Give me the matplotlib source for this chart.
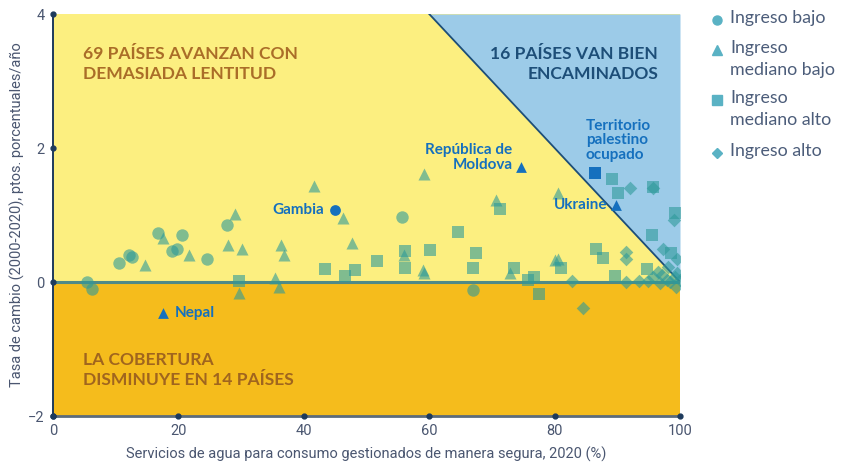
import numpy as np
import matplotlib
matplotlib.use("Agg")
import matplotlib.pyplot as plt
from matplotlib.lines import Line2D

# --- data (x = % safely managed 2020, y = pp/year 2000-2020) ---
low_x = [5.5, 6.2, 10.6, 12.2, 12.6, 16.7, 19.0, 19.7, 20.6, 24.5, 27.8, 55.7, 67.0]
low_y = [0.0, -0.11, 0.29, 0.41, 0.38, 0.73, 0.47, 0.49, 0.70, 0.35, 0.85, 0.97, -0.12]

lmid_x = [14.7, 17.6, 21.7, 27.9, 29.1, 30.2, 29.6, 35.4, 36.1, 36.4, 36.8, 41.7,
          46.2, 47.7, 56.0, 59.0, 59.2, 59.2, 70.7, 72.9, 80.1, 80.6, 80.6]
lmid_y = [0.25, 0.65, 0.41, 0.55, 1.02, 0.49, -0.16, 0.06, -0.07, 0.55, 0.41, 1.44,
          0.95, 0.58, 0.40, 0.18, 0.14, 1.61, 1.22, 0.13, 0.33, 0.35, 1.33]

umid_x = [29.6, 43.4, 46.5, 48.2, 51.7, 56.2, 56.2, 60.1, 64.6, 67.4, 67.0, 71.3,
          73.6, 75.8, 76.7, 77.5, 81.1, 86.6, 87.7, 89.6, 89.1, 90.1, 95.7, 95.6,
          94.8, 98.5, 99.2]
umid_y = [0.01, 0.20, 0.09, 0.18, 0.32, 0.47, 0.21, 0.48, 0.74, 0.44, 0.21, 1.09,
          0.21, 0.03, 0.08, -0.18, 0.21, 0.50, 0.36, 0.09, 1.54, 1.33, 1.42, 0.70,
          0.20, 0.43, 1.03]

high_x = [82.7, 84.6, 91.4, 91.4, 91.4, 92.1, 93.4, 94.9, 95.7, 97.3, 99.1, 99.6,
          98.1, 96.5, 97.1, 95.7, 97.9, 99.2, 100.0, 99.4, 98.4, 96.8, 99.6]
high_y = [0.02, -0.39, 0.45, 0.35, 0.0, 1.40, 0.02, 0.02, 1.41, 0.50, 0.93, 0.35,
          0.23, 0.15, 0.10, 0.08, 0.03, 0.08, 0.03, -0.07, 0.0, -0.02, 0.13]

# highlighted countries
hl_names = ["Gambia", "República de\nMoldova", "Nepal", "Ukraine",
            "Territorio\npalestino\nocupado"]
hl_x = [45.0, 74.6, 17.6, 89.8, 86.4]
hl_y = [1.07, 1.72, -0.46, 1.15, 1.62]
hl_marker = ["o", "^", "^", "^", "s"]

target_years = 10  # rate needed to reach 100% by 2030

# --- styles ---
YELLOW = "#FCEF80"
ORANGE = "#F5BC1C"
BLUE_BG = "#9CCBE8"
PT = "#2E9A9A"
HL = "#1570BE"
TXT = "#4A5670"

plt.rcParams["font.family"] = ["Lato", "DejaVu Sans"]

fig = plt.figure(figsize=(8.49, 4.63), dpi=100)
ax = fig.add_axes([53 / 849, 1 - 416 / 463, 627 / 849, 402 / 463])
ax.set_xlim(0, 100)
ax.set_ylim(-2, 4)

# background zones
xs = np.linspace(0, 100, 201)
line_y = (100 - xs) / target_years
ax.fill_between(xs, 0, 4, color=YELLOW, zorder=0, lw=0)
ax.fill_between(xs, -2, 0, color=ORANGE, zorder=0, lw=0)
ax.fill_between(xs, np.clip(line_y, 0, 4), 4, where=line_y <= 4.001,
                color=BLUE_BG, zorder=0.5, lw=0)
ax.plot(xs[line_y <= 4], line_y[line_y <= 4], color="#1D4E78", lw=1.3, zorder=2)
ax.axhline(0, color="#4F8A87", lw=2.2, zorder=2)

# scatter groups
kw = dict(color=PT, alpha=0.6, lw=0, zorder=3)
ax.scatter(low_x, low_y, marker="o", s=80, **kw)
ax.scatter(lmid_x, lmid_y, marker="^", s=75, **kw)
ax.scatter(umid_x, umid_y, marker="s", s=75, **kw)
ax.scatter(high_x, high_y, marker="D", s=48, **kw)

# highlighted countries
offsets = [(-8, 0), (-6, 6.5), (8, 0), (-6.5, 0), (-6.5, 24)]
aligns = ["right", "right", "left", "right", "left"]
for name, x, y, m, off, ha in zip(hl_names, hl_x, hl_y, hl_marker, offsets, aligns):
    ax.scatter([x], [y], marker=m, s=60 if m != "s" else 70, color=HL, lw=0, zorder=5)
    ax.annotate(name, (x, y), xytext=off, textcoords="offset points",
                ha=ha, va="center", multialignment=ha, color=HL,
                fontsize=11, fontweight="bold", linespacing=1.05, zorder=6)

# zone labels
ax.text(4.8, 3.25, "69 PAÍSES AVANZAN CON\nDEMASIADA LENTITUD", ha="left", va="center",
        color="#AA6D28", fontsize=12.6, fontweight="bold", linespacing=1.3)
ax.text(96.5, 3.25, "16 PAÍSES VAN BIEN\nENCAMINADOS", ha="right", va="center",
        multialignment="right", color="#1D4E78", fontsize=12.6, fontweight="bold",
        linespacing=1.3)
ax.text(4.8, -1.31, "LA COBERTURA\nDISMINUYE EN 14 PAÍSES", ha="left", va="center",
        color="#A0651E", fontsize=12.6, fontweight="bold", linespacing=1.3)

# axes styling
for s in ["top", "right"]:
    ax.spines[s].set_visible(False)
ax.spines["left"].set_color("#1D3A5C")
ax.spines["left"].set_linewidth(1.4)
ax.spines["bottom"].set_color("#5C6B7A")
ax.spines["bottom"].set_linewidth(2)
ax.set_xticks([0, 20, 40, 60, 80, 100])
ax.set_yticks([-2, 0, 2, 4])
ax.tick_params(length=0, labelsize=10.5, labelcolor=TXT, pad=6)
for lab in ax.get_xticklabels() + ax.get_yticklabels():
    lab.set_family(["Roboto", "DejaVu Sans"])
ax.plot(ax.get_xticks(), [-2] * 6, "o", ms=3.5, color="#1D3A5C", clip_on=False, zorder=7)
ax.plot([0] * 4, ax.get_yticks(), "o", ms=3.5, color="#1D3A5C", clip_on=False, zorder=7)

ax.set_xlabel("Servicios de agua para consumo gestionados de manera segura, 2020 (%)",
              fontsize=10.5, color=TXT, family=["Roboto", "DejaVu Sans"], labelpad=6)
ax.set_ylabel("Tasa de cambio (2000-2020), ptos. porcentuales/año",
              fontsize=10.5, color=TXT, family=["Roboto", "DejaVu Sans"], labelpad=2)

# legend, drawn by hand so the marker sits on the first line of each label
leg_labels = ["Ingreso bajo", "Ingreso\nmediano bajo", "Ingreso\nmediano alto", "Ingreso alto"]
leg_markers = ["o", "^", "s", "D"]
leg_rows = [20, 50, 100, 153]
for lab, m, row in zip(leg_labels, leg_markers, leg_rows):
    fy = 1 - row / 463
    fig.add_artist(Line2D([717 / 849], [fy], marker=m, ms=6.5 if m != "D" else 5.5,
                          color="#5AB2C4", lw=0, transform=fig.transFigure))
    fig.text(730 / 849, fy + 10 / 463, lab, ha="left", va="top", fontsize=12.8,
             color="#4C5D7A", linespacing=1.5)

fig.savefig("out.png", dpi=100)
